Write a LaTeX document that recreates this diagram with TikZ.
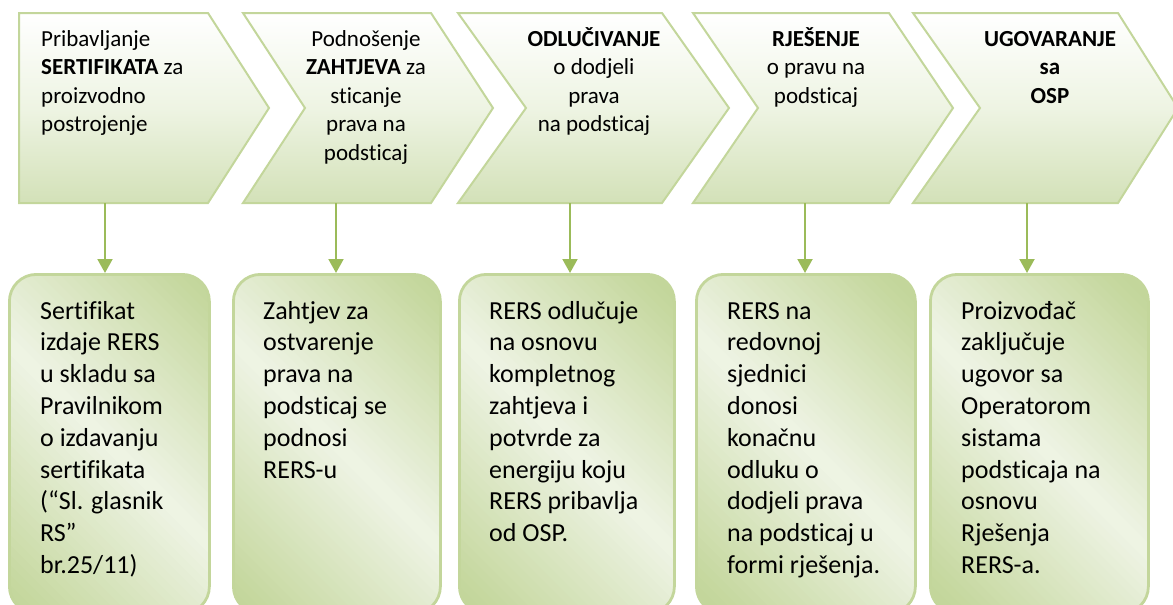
\documentclass[tikz,border=0pt]{standalone}
\usepackage{fontspec}
\setmainfont{Carlito}[Ligatures={NoCommon}]
\usetikzlibrary{arrows.meta,calc}
\definecolor{gborder}{HTML}{C3D69B}
\definecolor{garrow}{HTML}{9BBB59}
\definecolor{gdark}{HTML}{C3D69B}
\definecolor{glight}{HTML}{EFF4E5}
\definecolor{gbottom}{HTML}{D3E1B8}
\definecolor{gmid}{HTML}{EEF4E3}
\newcommand\diagshade{%
  \coordinate (cc) at (path picture bounding box.center);
  \foreach \i in {0,...,59} {
    \pgfmathsetmacro\qa{-300+\i*10}
    \pgfmathsetmacro\qb{\qa+11}
    \pgfmathsetmacro\ff{min(100,abs(\qa+5)/2.5)}
    \fill[gdark!\ff!glight] ($(cc)+(\qa/2-400,-\qa/2-400)$) -- ($(cc)+(\qa/2+400,-\qa/2+400)$) -- ($(cc)+(\qb/2+400,-\qb/2+400)$) -- ($(cc)+(\qb/2-400,-\qb/2-400)$) -- cycle;
  }}
\begin{document}
\begin{tikzpicture}[x=1pt,y=-1pt,
  chev/.style={draw=gborder, line width=2pt, line join=miter, top color=white, bottom color=gbottom, middle color=gmid},
  boxnode/.style={draw=gborder, line width=2.8pt, rounded corners=27pt, path picture={\diagshade}, anchor=north west, inner sep=0pt, minimum height=339pt},
  arr/.style={draw=garrow, line width=2pt, -{Triangle[length=14pt,width=15pt]}},
  ttext/.style={font=\fontsize{23}{28.4}\selectfont, inner sep=0pt, text=black},
  btext/.style={font=\fontsize{26}{31.8}\selectfont, inner sep=0pt, align=left, anchor=base west, text=black}]
\useasboundingbox (0,0) rectangle (1173,605);
% chevrons
\filldraw[chev] (19,13) -- (208,13) -- (269,108) -- (208,203) -- (19,203) -- cycle;
\filldraw[chev] (243,13) -- (431,13) -- (493,108) -- (431,203) -- (243,203) -- (305,108) -- cycle;
\filldraw[chev] (458,13) -- (662,13) -- (729,108) -- (662,203) -- (458,203) -- (526,108) -- cycle;
\filldraw[chev] (693,13) -- (889,13) -- (953,108) -- (889,203) -- (693,203) -- (758,108) -- cycle;
\filldraw[chev] (913,13) -- (1118,13) -- (1178,108) -- (1118,203) -- (913,203) -- (980,108) -- cycle;
\coordinate (c1) at (105,203);
\coordinate (c2) at (336,203);
\coordinate (c3) at (570,203);
\coordinate (c4) at (805,203);
\coordinate (c5) at (1027,203);
% boxes
\node[boxnode, minimum width=200pt] (b1) at (8,273) {};
\node[boxnode, minimum width=207pt] (b2) at (232,273) {};
\node[boxnode, minimum width=215pt] (b3) at (458,273) {};
\node[boxnode, minimum width=219pt] (b4) at (695,273) {};
\node[boxnode, minimum width=218pt] (b5) at (929,273) {};
% arrows
\draw[arr] (c1) -- (c1 |- b1.north);
\draw[arr] (c2) -- (c2 |- b2.north);
\draw[arr] (c3) -- (c3 |- b3.north);
\draw[arr] (c4) -- (c4 |- b4.north);
\draw[arr] (c5) -- (c5 |- b5.north);
% chevron texts (anchored at the baseline of the last line)
\node[ttext, align=left, anchor=base west] (h1) at (41,131.7) {Pribavljanje\\\textbf{SERTIFIKATA} za\\proizvodno\\postrojenje};
\node[ttext, align=center, anchor=base] (h2) at (366,160.1) {Podnošenje\\\textbf{ZAHTJEVA} za\\sticanje\\prava na\\podsticaj};
\node[ttext, align=center, anchor=base] (h3) at (594,131.7) {\textbf{ODLUČIVANJE}\\o dodjeli\\prava\\na podsticaj};
\node[ttext, align=center, anchor=base] (h4) at (816,103.3) {\textbf{RJEŠENJE}\\o pravu na\\podsticaj};
\node[ttext, align=center, anchor=base] (h5) at (1050,103.3) {\textbf{UGOVARANJE}\\\textbf{sa}\\\textbf{OSP}};
% box texts
\node[btext] (t1) at (40,573.4) {Sertifikat\\izdaje RERS\\u skladu sa\\Pravilnikom\\o izdavanju\\sertifikata\\(“Sl. glasnik\\RS”\\br.25/11)};
\node[btext] (t2) at (263,478) {Zahtjev za\\ostvarenje\\prava na\\podsticaj se\\podnosi\\RERS-u};
\node[btext] (t3) at (489,541.6) {RERS odlučuje\\na osnovu\\kompletnog\\zahtjeva i\\potvrde za\\energiju koju\\RERS pribavlja\\od OSP.};
\node[btext] (t4) at (727,573.4) {RERS na\\redovnoj\\sjednici\\donosi\\konačnu\\odluku o\\dodjeli prava\\na podsticaj u\\formi rješenja.};
\node[btext] (t5) at (961,573.4) {Proizvođač\\zaključuje\\ugovor sa\\Operatorom\\sistama\\podsticaja na\\osnovu\\Rješenja\\RERS-a.};
\end{tikzpicture}
\end{document}
